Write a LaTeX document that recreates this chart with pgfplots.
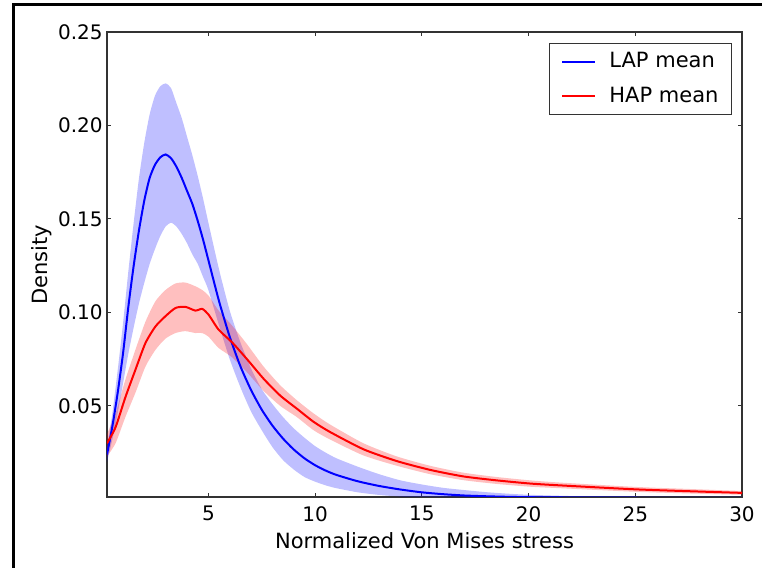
\documentclass[border=0pt]{standalone}
\usepackage{fontspec}
\setmainfont{DejaVu Sans}
\usepackage{pgfplots}
\usepackage{pgfplotstable}
\pgfplotsset{compat=1.18}
\usepgfplotslibrary{fillbetween}

\pgfplotstableread{
x mean lo hi
0.25 0.024 0.020 0.028
0.5 0.039 0.032 0.046
0.75 0.057 0.046 0.069
1.0 0.078 0.062 0.094
1.25 0.103 0.078 0.122
1.5 0.125 0.092 0.148
1.75 0.144 0.105 0.172
2.0 0.160 0.116 0.191
2.25 0.172 0.126 0.206
2.5 0.179 0.134 0.216
2.75 0.183 0.141 0.221
3.0 0.1845 0.146 0.2225
3.25 0.1825 0.148 0.220
3.5 0.178 0.146 0.212
3.75 0.172 0.142 0.204
4.0 0.165 0.137 0.194
4.25 0.158 0.131 0.184
4.5 0.149 0.126 0.173
4.75 0.139 0.119 0.161
5.0 0.128 0.112 0.148
5.5 0.106 0.093 0.123
6.0 0.087 0.075 0.101
6.5 0.0712 0.060 0.084
7.0 0.0585 0.047 0.070
7.5 0.0480 0.037 0.059
8.0 0.0395 0.028 0.051
8.5 0.0325 0.021 0.044
9.0 0.0267 0.016 0.038
9.5 0.0220 0.012 0.033
10 0.0183 0.0095 0.0285
10.5 0.0154 0.0075 0.025
11 0.0131 0.006 0.022
12 0.0097 0.0038 0.0175
13 0.0072 0.0024 0.0135
14 0.0053 0.0015 0.0102
15 0.0038 0.0010 0.0080
16 0.0028 0.0007 0.0062
17 0.0021 0.0005 0.0050
18 0.0017 0.0004 0.0039
19 0.0014 0.0003 0.0031
20 0.0012 0.0003 0.0025
22 0.0010 0.0003 0.0018
25 0.0009 0.0003 0.0014
30 0.0008 0.0003 0.0011
}\lap

\pgfplotstableread{
x mean lo hi
0.25 0.030 0.023 0.035
0.65 0.0386 0.030 0.046
1.11 0.0546 0.044 0.064
1.58 0.0693 0.057 0.080
2.05 0.0836 0.071 0.095
2.52 0.0925 0.080 0.106
2.99 0.098 0.086 0.112
3.46 0.1024 0.089 0.1155
3.92 0.103 0.090 0.116
4.39 0.101 0.089 0.114
4.71 0.1019 0.089 0.112
5.01 0.0988 0.087 0.109
5.48 0.0908 0.081 0.101
6.11 0.0840 0.076 0.093
6.81 0.0750 0.068 0.083
7.59 0.0645 0.058 0.071
8.37 0.0555 0.050 0.061
9.15 0.0485 0.044 0.053
9.93 0.0415 0.037 0.046
10.71 0.0360 0.032 0.040
12.27 0.0268 0.0235 0.030
13.83 0.0205 0.018 0.023
15.39 0.0158 0.0135 0.018
16.95 0.0123 0.0103 0.0143
18.5 0.0102 0.0083 0.012
20.07 0.0085 0.0068 0.0102
21.5 0.0075 0.006 0.009
25 0.0054 0.0041 0.0067
27.5 0.0044 0.0032 0.0056
30 0.0035 0.0025 0.0045
}\hap

\begin{document}
\fontsize{10.5pt}{12.6pt}\selectfont
\begin{tikzpicture}
\begin{axis}[
  scale only axis,
  width=317.5pt, height=232.5pt,
  xmin=0.25, xmax=30, ymin=0.0013, ymax=0.25,
  xtick={5,10,15,20,25,30},
  ytick={0.05,0.10,0.15,0.20,0.25},
  /pgf/number format/assume math mode=true,
  ticklabel style={font=\fontsize{10pt}{12pt}\selectfont},
  yticklabel style={/pgf/number format/fixed, /pgf/number format/fixed zerofill, /pgf/number format/precision=2, inner sep=0pt, xshift=-2pt},
  xticklabel style={inner sep=0pt, yshift=-4.5pt},
  scaled y ticks=false,
  major tick length=2pt,
  tick align=inside,
  axis line style={black!80, line width=0.6pt},
  every tick/.style={black!80, line width=0.5pt},
  xlabel={Normalized Von Mises stress},
  ylabel={Density},
  xlabel style={yshift=-2pt},
  ylabel style={yshift=-0.5pt},
  legend style={at={(1,1)}, anchor=north east, xshift=-5pt, yshift=-5.5pt,
    draw=black!80, line width=0.5pt, row sep=4pt, inner xsep=4.5pt, inner ysep=2.5pt,
    font=\fontsize{10.5pt}{12.6pt}\selectfont},
  legend cell align=left,
  legend image code/.code={\path (-1.5pt,0pt); \draw[#1, line width=1pt] (0pt,0pt) -- (16.5pt,0pt); \path (21pt,0pt);},
]
\addplot[name path=bhi, draw=none, smooth, tension=0.4, forget plot] table[x=x, y=hi] {\lap};
\addplot[name path=blo, draw=none, smooth, tension=0.4, forget plot] table[x=x, y=lo] {\lap};
\addplot[fill=blue, fill opacity=0.25, draw=none, forget plot] fill between[of=bhi and blo];
\addplot[name path=rhi, draw=none, smooth, tension=0.4, forget plot] table[x=x, y=hi] {\hap};
\addplot[name path=rlo, draw=none, smooth, tension=0.4, forget plot] table[x=x, y=lo] {\hap};
\addplot[fill=red, fill opacity=0.25, draw=none, forget plot] fill between[of=rhi and rlo];
\addplot[blue, line width=1pt, smooth, tension=0.4] table[x=x, y=mean] {\lap};
\addlegendentry{LAP mean}
\addplot[red, line width=1pt, smooth, tension=0.4] table[x=x, y=mean] {\hap};
\addlegendentry{HAP mean}
\end{axis}
\draw[line width=1.5pt] (-46.9pt,-35.5pt) -- (-46.9pt,246.2pt) -- (327.5pt,246.2pt);
\pgfresetboundingbox
\useasboundingbox (-53.5pt,-35.5pt) rectangle (327.5pt,248.5pt);
\end{tikzpicture}
\end{document}
